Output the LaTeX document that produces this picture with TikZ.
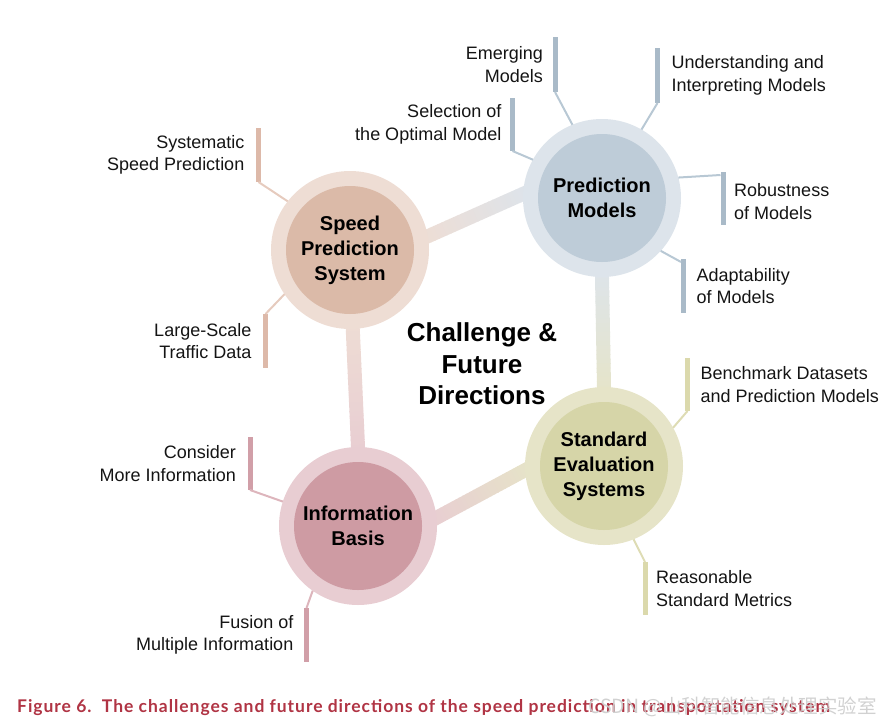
\documentclass[tikz,border=0pt]{standalone}
\usepackage{fontspec}
\setmainfont{Liberation Sans}
\newfontfamily\capfont[LetterSpace=5.5]{Lato}
\newfontfamily\cjkfont{Noto Sans CJK SC}
\usetikzlibrary{calc,backgrounds}
\definecolor{spsO}{HTML}{EEDDD4}
\definecolor{spsI}{HTML}{DBBAA8}
\definecolor{spsB}{HTML}{DDB9A9}
\definecolor{spsL}{HTML}{E6CBBE}
\definecolor{pmO}{HTML}{DDE4EB}
\definecolor{pmI}{HTML}{BECCD8}
\definecolor{pmB}{HTML}{A9BAC8}
\definecolor{pmL}{HTML}{B8C8D4}
\definecolor{ibO}{HTML}{E8CDD2}
\definecolor{ibI}{HTML}{CE9BA3}
\definecolor{ibB}{HTML}{D19FA8}
\definecolor{ibL}{HTML}{DDB5BC}
\definecolor{sesO}{HTML}{E6E4C8}
\definecolor{sesI}{HTML}{D6D5A8}
\definecolor{sesB}{HTML}{DBD9AC}
\definecolor{sesL}{HTML}{DEDCB4}
\definecolor{capred}{HTML}{B03444}
\tikzset{
  lbl/.style={font=\fontsize{18}{22.5}\selectfont, inner sep=0pt, text=black!92},
  lblL/.style={lbl, anchor=west, align=left},
  lblR/.style={lbl, anchor=east, align=right},
  outerc/.style={circle, minimum size=158pt, inner sep=0pt, outer sep=0pt},
  innerc/.style={circle, minimum size=128pt, inner sep=0pt, outer sep=0pt,
    font=\fontsize{20}{25}\selectfont\bfseries, align=center},
  tagbar/.style={minimum width=5pt, minimum height=54pt, inner sep=0pt, outer sep=0pt},
  leader/.style={line width=2pt},
}
\newcommand\gradlink[4]{%
  \coordinate (ga) at ($(#1)!-12pt!(#2)$);%
  \coordinate (gb) at ($(#2)!-12pt!(#1)$);%
  \foreach \k in {0,...,29}{%
    \pgfmathsetmacro\pa{\k/30}%
    \pgfmathsetmacro\pb{(\k+1.15)/30}%
    \pgfmathsetmacro\mx{100-\k*100/29}%
    \draw[line width=14pt, #3!\mx!#4] ($(ga)!\pa!(gb)$) -- ($(ga)!\pb!(gb)$);}%
}
\begin{document}
\begin{tikzpicture}[x=1pt,y=-1pt]
\useasboundingbox (0,0) rectangle (896,725);

% hubs
\node[outerc, fill=spsO] (sps) at (350,250) {};
\node[innerc, fill=spsI] (spsin) at (sps) {Speed\\Prediction\\System};
\node[outerc, fill=pmO] (pm) at (602,198) {};
\node[innerc, fill=pmI] (pmin) at (pm) {Prediction\\Models};
\node[outerc, fill=ibO] (ib) at (358,526) {};
\node[innerc, fill=ibI] (ibin) at (ib) {Information\\Basis};
\node[outerc, fill=sesO] (ses) at (604,466) {};
\node[innerc, fill=sesI] (sesin) at (ses) {Standard\\Evaluation\\Systems};

% gradient links between hubs
\begin{pgfonlayer}{background}
\gradlink{sps.10}{pm.177}{spsO}{pmO}
\gradlink{pm.270}{ses.90}{pmO}{sesO}
\gradlink{ses.183}{ib.6}{sesO}{ibO}
\gradlink{ib.90}{sps.272}{ibO}{spsO}
\end{pgfonlayer}

% centre title
\node[font=\fontsize{26}{31.5}\selectfont\bfseries, align=center, inner sep=0pt] (title) at (482,364) {Challenge \&\\Future\\Directions};

% Prediction Models tags
\node[tagbar, fill=pmB, minimum height=55pt] (b1) at (555,64.5) {};
\node[lblR] (t1) at ($(b1.center)+(-12,0)$) {Emerging\\Models};
\draw[leader, pmL] (b1.south) -- (pm.112);
\node[tagbar, fill=pmB, minimum height=55pt] (b2) at (657.5,75.5) {};
\node[lblL] (t2) at ($(b2.center)+(14,0)$) {Understanding and\\Interpreting Models};
\draw[leader, pmL] (b2.south) -- (pm.60);
\node[tagbar, fill=pmB, minimum height=53pt] (b3) at (512.5,124.5) {};
\node[lblR] (t3) at ($(b3.center)+(-11,0)$) {Selection of\\the Optimal Model};
\draw[leader, pmL] (b3.south) -- (pm.151);
\node[tagbar, fill=pmB, minimum height=53pt] (b4) at (723,198.5) {};
\node[lblL] (t4) at ($(b4.center)+(11,3)$) {Robustness\\of Models};
\draw[leader, pmL] ($(b4.north west)+(0,3)$) -- (pm.15);
\node[tagbar, fill=pmB, minimum height=54pt] (b5) at (683.5,286) {};
\node[lblL] (t5) at ($(b5.center)+(13,0)$) {Adaptability\\of Models};
\draw[leader, pmL] ($(b5.north west)+(0,3)$) -- (pm.318);

% Speed Prediction System tags
\node[tagbar, fill=spsB] (b6) at (258.5,155) {};
\node[lblR] (t6) at ($(b6.center)+(-14,0)$) {Systematic\\Speed Prediction};
\draw[leader, spsL] (b6.south) -- (sps.142);
\node[tagbar, fill=spsB] (b7) at (265.5,341) {};
\node[lblR] (t7) at ($(b7.center)+(-14,0)$) {Large-Scale\\Traffic Data};
\draw[leader, spsL] (b7.north) -- (sps.214.5);

% Information Basis tags
\node[tagbar, fill=ibB, minimum height=53pt] (b8) at (250,463.5) {};
\node[lblR] (t8) at ($(b8.center)+(-14,0)$) {Consider\\More Information};
\draw[leader, ibL] (b8.south) -- (ib.162);
\node[tagbar, fill=ibB] (b9) at (306.5,635) {};
\node[lblR] (t9) at ($(b9.center)+(-13,0)$) {Fusion of\\Multiple Information};
\draw[leader, ibL] (b9.north) -- (ib.235);

% Standard Evaluation Systems tags
\node[tagbar, fill=sesB, minimum height=53pt] (b10) at (687.5,384.5) {};
\node[lblL] (t10) at ($(b10.center)+(13,0)$) {Benchmark Datasets\\and Prediction Models};
\draw[leader, sesL] (b10.south) -- (ses.29);
\node[tagbar, fill=sesB, minimum height=53pt] (b11) at (645,588.5) {};
\node[lblL] (t11) at ($(b11.center)+(11,0)$) {Reasonable\\Standard Metrics};
\draw[leader, sesL] (b11.north) -- (ses.292);

% caption and watermark
\node[anchor=base west, inner sep=0pt, text=capred, font=\capfont\bfseries\fontsize{17.5}{17.5}\selectfont] (cap) at (17,712) {Figure 6.\ \ The challenges and future directions of the speed prediction in transportation system};
\node[anchor=base west, inner sep=0pt, text=gray!40, opacity=0.9, font=\cjkfont\fontsize{19.5}{19.5}\selectfont] (wm) at (588,713) {CSDN @山科智能信息处理实验室};
\end{tikzpicture}
\end{document}
